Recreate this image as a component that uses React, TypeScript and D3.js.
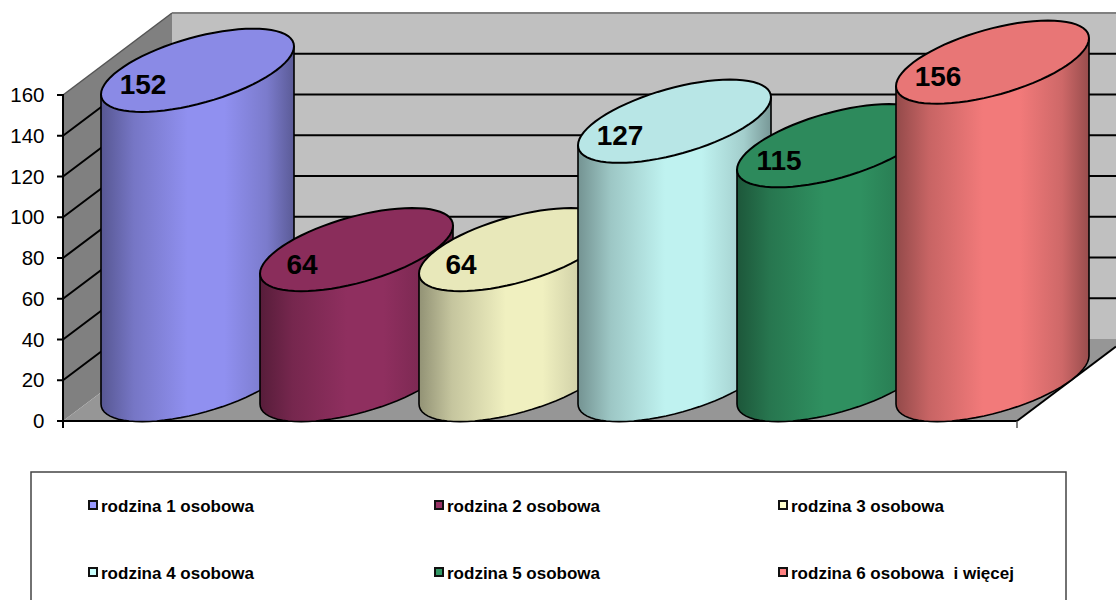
import React from "react";
import * as d3 from "d3";

const categories = ["rodzina 1 osobowa", "rodzina 2 osobowa", "rodzina 3 osobowa", "rodzina 4 osobowa", "rodzina 5 osobowa", "rodzina 6 osobowa  i więcej"];
const values = [152, 64, 64, 127, 115, 156];
const sideColors = ["#9090F0", "#8F2F5F", "#F0F0C0", "#BFF2F0", "#2F9060", "#F27A7A"];
const topColors = ["#8A8AE6", "#8A2D5B", "#E8E8BA", "#B8E6E6", "#2D8A5C", "#E87676"];
const ticks = d3.range(0, 161, 20);

const x0 = 63, x1 = 1017, dx = 109, dy = 82;
const y = d3.scaleLinear().domain([0, 160]).range([421, 95]);
const band = d3.scaleBand<number>().domain(d3.range(6)).range([118, 1072]).padding(0);
const RX = 96.5, SK = 24, RY = 34, BASE = 380;
const unit = y(0) - y(1);

function ell(cx: number, cy: number, t: number) {
  return [cx + RX * Math.cos(t), cy - SK * Math.cos(t) + RY * Math.sin(t)];
}
function pathTop(cx: number, cy: number) {
  const p = d3.range(0, 73).map((i) => ell(cx, cy, (i / 72) * 2 * Math.PI));
  return d3.line()(p as [number, number][]) + "Z";
}
function pathBody(cx: number, cyTop: number, cyBase: number) {
  const lower = d3.range(0, 37).map((i) => ell(cx, cyBase, Math.PI - (i / 36) * Math.PI));
  const pts = [ell(cx, cyTop, Math.PI), ...lower, ell(cx, cyTop, 0)];
  return d3.line()(pts as [number, number][]) as string;
}
const poly = (p: number[][]) => p.map((q) => q.join(",")).join(" ");

export default function App() {
  const legendX = [88, 434, 778];
  const legendY = [506, 573];
  return (
    <svg width={1116} height={600} style={{ position: "absolute", left: 0, top: 0, background: "#fff" }} fontFamily="'Liberation Sans', Arial, sans-serif">
      <defs>
        {sideColors.map((c, i) => {
          const col = d3.color(c)!;
          return (
            <linearGradient key={i} id={`g${i}`} x1="0" x2="1" y1="0" y2="0">
              <stop offset="0" stopColor={col.darker(1.4).formatHex()} />
              <stop offset="0.17" stopColor={col.darker(0.55).formatHex()} />
              <stop offset="0.45" stopColor={c} />
              <stop offset="0.64" stopColor={c} />
              <stop offset="0.86" stopColor={col.darker(0.45).formatHex()} />
              <stop offset="1" stopColor={col.darker(1.3).formatHex()} />
            </linearGradient>
          );
        })}
      </defs>
      <polygon points={poly([[x0 + dx, y(160) - dy], [1116, y(160) - dy], [1116, y(0) - dy], [x0 + dx, y(0) - dy]])} fill="#C0C0C0" />
      <polygon points={poly([[x0, y(160)], [x0 + dx, y(160) - dy], [x0 + dx, y(0) - dy], [x0, y(0)]])} fill="#808080" />
      <polygon points={poly([[x0, y(0)], [x0 + dx, y(0) - dy], [1116, y(0) - dy], [1116, y(0) - (1116 - x1) * (dy / dx)], [x1, y(0)]])} fill="#969696" />
      <line x1={x0} y1={y(160)} x2={x0 + dx} y2={y(160) - dy} stroke="#555" strokeWidth={1.5} />
      <line x1={x0 + dx} y1={y(160) - dy} x2={1116} y2={y(160) - dy} stroke="#808080" strokeWidth={2} />
      {ticks.filter((t) => t > 0 && t < 160).map((t) => (
        <polyline key={t} points={poly([[x0, y(t)], [x0 + dx, y(t) - dy], [1116, y(t) - dy]])} fill="none" stroke="#000" strokeWidth={2} />
      ))}
      <line x1={x0} y1={y(160) - 1} x2={x0} y2={y(0) + 7} stroke="#000" strokeWidth={2} />
      <line x1={x0} y1={y(0)} x2={x1} y2={y(0)} stroke="#000" strokeWidth={2} />
      <line x1={x1} y1={y(0)} x2={1116} y2={y(0) - (1116 - x1) * (dy / dx)} stroke="#000" strokeWidth={2} />
      <line x1={x1} y1={y(0)} x2={x1} y2={y(0) + 7} stroke="#555" strokeWidth={1.5} />
      {ticks.map((t) => (
        <g key={t}>
          <line x1={x0 - 6} x2={x0} y1={y(t)} y2={y(t)} stroke="#000" strokeWidth={2} />
          <text x={44.5} y={y(t) + 7} textAnchor="end" fontSize={20.5} fill="#000">{t}</text>
        </g>
      ))}
      {values.map((v, i) => {
        const cx = (band(i) as number);
        const cyTop = BASE - v * unit;
        return (
          <g key={i}>
            <path d={pathBody(cx + 79.5, cyTop, BASE)} fill={`url(#g${i})`} stroke="#000" strokeWidth={1.6} />
            <path d={pathTop(cx + 79.5, cyTop)} fill={topColors[i]} stroke="#000" strokeWidth={2} />
            <text x={cx + 79.5 - 54.5} y={cyTop + 24} textAnchor="middle" fontSize={28} fontWeight="bold" fill="#000">{v}</text>
          </g>
        );
      })}
      <polyline points={poly([[31, 601], [31, 472], [1066, 472], [1066, 601]])} fill="none" stroke="#444" strokeWidth={1.5} />
      {categories.map((c, i) => {
        const lx = legendX[i % 3];
        const ly = legendY[Math.floor(i / 3)];
        return (
          <g key={i}>
            <rect x={lx + 1} y={ly - 5} width={8} height={8} fill={d3.color(sideColors[i])!.brighter(0.15).formatHex()} stroke="#111" strokeWidth={2} />
            <text x={lx + 13} y={ly + 6} fontSize={17} fontWeight="bold" fill="#000" style={{ whiteSpace: "pre" }}>{c}</text>
          </g>
        );
      })}
    </svg>
  );
}
